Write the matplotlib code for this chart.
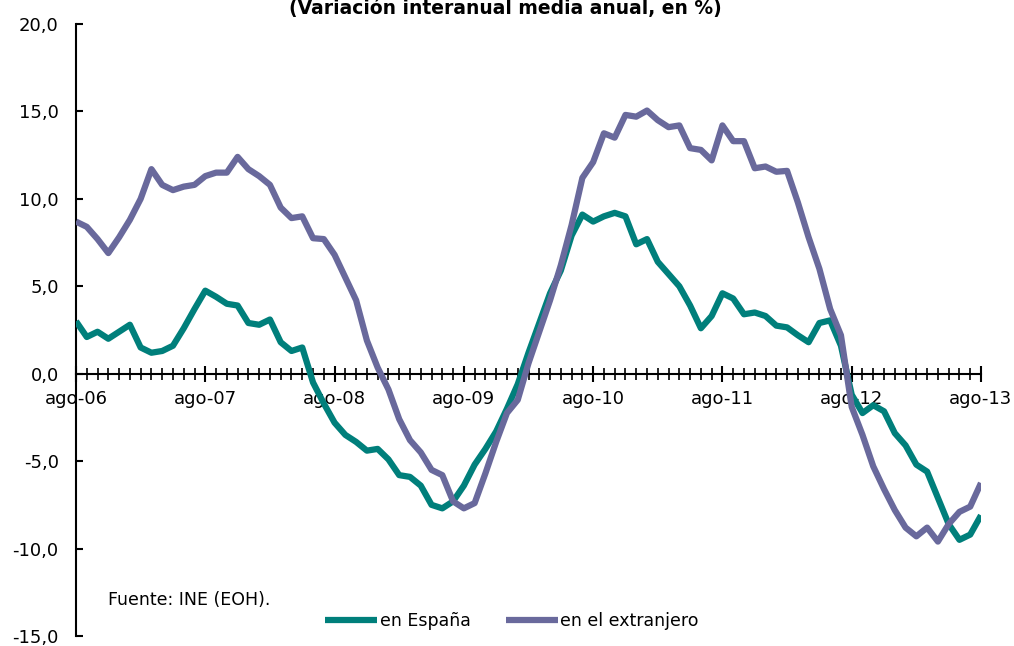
import numpy as np
import matplotlib
matplotlib.use('Agg')
import matplotlib.pyplot as plt
from matplotlib.ticker import MultipleLocator, FixedLocator

# monthly series, ago-06 .. ago-13 (85 points)
espana = [3.0, 2.1, 2.4, 2.0, 2.4, 2.8, 1.5, 1.2, 1.3, 1.6,
          2.6, 3.7, 4.75, 4.4, 4.0, 3.9, 2.9, 2.8, 3.1, 1.8,
          1.3, 1.5, -0.5, -1.7, -2.8, -3.5, -3.9, -4.4, -4.3, -4.9,
          -5.8, -5.9, -6.4, -7.5, -7.7, -7.3, -6.4, -5.2, -4.3, -3.3,
          -2.0, -0.6, 1.2, 2.9, 4.6, 5.9, 7.9, 9.1, 8.7, 9.0,
          9.2, 9.0, 7.4, 7.7, 6.4, 5.7, 5.0, 3.9, 2.6, 3.3,
          4.6, 4.3, 3.4, 3.5, 3.3, 2.75, 2.65, 2.2, 1.8, 2.9,
          3.05, 1.6, -1.2, -2.25, -1.8, -2.15, -3.4, -4.1, -5.2, -5.6,
          -7.1, -8.6, -9.5, -9.2, -8.1]
extranjero = [8.7, 8.4, 7.7, 6.9, 7.8, 8.8, 10.0, 11.7, 10.8, 10.5,
              10.7, 10.8, 11.3, 11.5, 11.5, 12.4, 11.7, 11.3, 10.8, 9.5,
              8.9, 9.0, 7.75, 7.7, 6.8, 5.5, 4.2, 1.9, 0.35, -0.9,
              -2.6, -3.8, -4.5, -5.5, -5.8, -7.3, -7.7, -7.4, -5.7, -3.9,
              -2.25, -1.5, 0.6, 2.4, 4.2, 6.2, 8.5, 11.2, 12.1, 13.75,
              13.5, 14.8, 14.7, 15.05, 14.5, 14.1, 14.2, 12.9, 12.8, 12.2,
              14.2, 13.3, 13.3, 11.75, 11.85, 11.55, 11.6, 9.8, 7.8, 6.0,
              3.7, 2.2, -1.9, -3.5, -5.3, -6.6, -7.8, -8.8, -9.3, -8.8,
              -9.6, -8.6, -7.9, -7.6, -6.25]
year_labels = ['ago-06', 'ago-07', 'ago-08', 'ago-09', 'ago-10', 'ago-11', 'ago-12', 'ago-13']
y_ticks = [-15, -10, -5, 0, 5, 10, 15, 20]
y_labels = ['-15,0', '-10,0', '-5,0', '0,0', '5,0', '10,0', '15,0', '20,0']

teal = '#007f7b'
purple = '#69699c'

plt.rcParams['font.family'] = ['DejaVu Sans']

W, H = 1014, 646
fig = plt.figure(figsize=(W / 100, H / 100), dpi=100)
ax = fig.add_axes([76 / W, 1 - 636 / H, (981 - 76) / W, (636 - 24) / H])

months = np.arange(len(espana))
ax.plot(months, espana, color=teal, lw=4.5, solid_joinstyle='round', solid_capstyle='butt',
        label='en España', zorder=3)
ax.plot(months, extranjero, color=purple, lw=4.5, solid_joinstyle='round', solid_capstyle='butt',
        label='en el extranjero', zorder=3)

ax.set_xlim(0, 84)
ax.set_ylim(-15, 20)

ax.spines['top'].set_visible(False)
ax.spines['right'].set_visible(False)
ax.spines['bottom'].set_position(('data', 0))
ax.spines['bottom'].set_linewidth(1.5)
ax.spines['left'].set_linewidth(1.5)
ax.spines['bottom'].set_zorder(2)

ax.xaxis.set_major_locator(FixedLocator(np.arange(0, 85, 12)))
ax.xaxis.set_minor_locator(MultipleLocator(1))
ax.set_xticklabels(year_labels)
ax.tick_params(axis='x', which='major', direction='inout', length=11, width=1.5,
               labelsize=13, pad=6)
ax.tick_params(axis='x', which='minor', direction='inout', length=9, width=1.2)

ax.set_yticks(y_ticks)
ax.set_yticklabels(y_labels)
ax.tick_params(axis='y', which='major', direction='in', length=5, width=1.5,
               labelsize=13, pad=12.5)

fig.text(505 / W, 1 - 14 / H, '(Variación interanual media anual, en %)',
         ha='center', va='baseline', fontsize=13.5, fontweight='bold')

fig.text(108 / W, 1 - 600 / H, 'Fuente: INE (EOH).', ha='left', va='center', fontsize=12.5)

fig.legend(loc='center', bbox_to_anchor=(512 / W, 1 - 621 / H), ncol=2, frameon=False,
           fontsize=12.5, handlelength=3.0, handletextpad=0.15, columnspacing=2.0)

fig.savefig('out.png', dpi=100)
